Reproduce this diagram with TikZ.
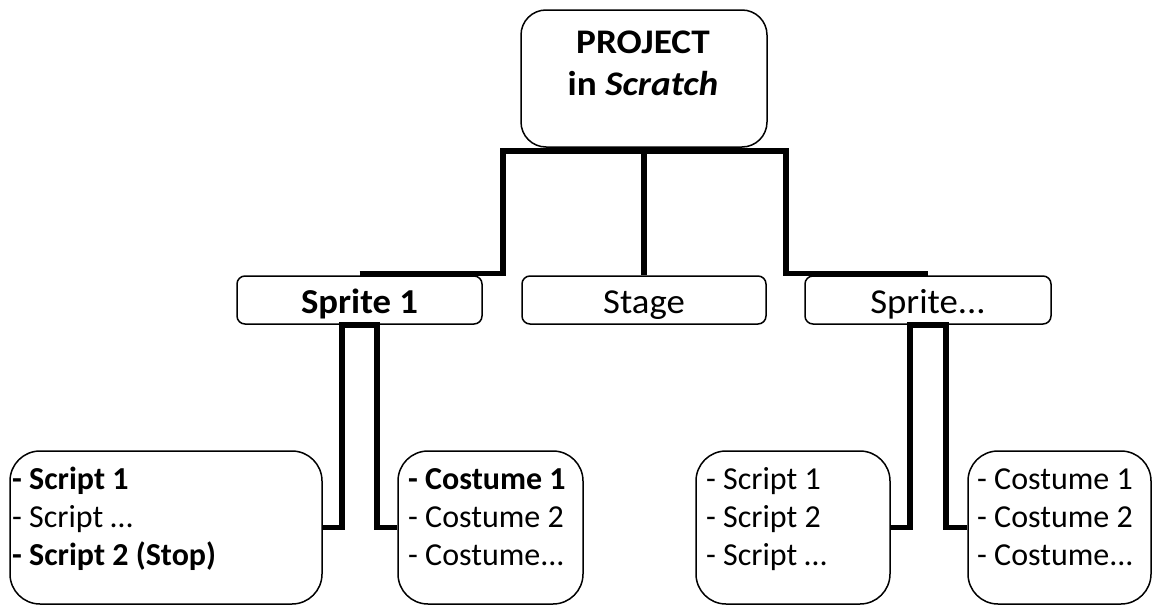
\documentclass[tikz,border=0pt]{standalone}
\usepackage{fontspec}
\setmainfont{Carlito}
\newfontfamily\widefont[FakeStretch=1.08]{Carlito}
\newfontfamily\midfont[FakeStretch=1.05]{Carlito}

\begin{document}
\begin{tikzpicture}
  [x=1pt,y=-1pt,
   top/.style={draw,line width=1.5pt,rounded corners=25pt,minimum width=246pt,minimum height=137pt},
   mid/.style={draw,line width=1.5pt,rounded corners=8pt,minimum height=48pt,inner sep=0pt,
               text height=30pt,text depth=4pt,font=\midfont\fontsize{35}{40}\selectfont},
   leaf/.style={draw,line width=1.5pt,rounded corners=30pt,minimum height=153pt},
   items/.style={anchor=north west,align=left,inner sep=0pt,font=\fontsize{32}{38}\selectfont},
   conn/.style={line width=5.5pt}]
  \useasboundingbox (0,0) rectangle (1154,605);

  \node[top] (proj) at (644,78.5) {};
  \node[align=center,inner sep=0pt,font=\widefont\fontsize{34.5}{42}\selectfont\bfseries] (projtxt) at (643,63) {PROJECT\\in \textit{Scratch}};

  \node[mid,minimum width=245pt] (spr1)  at (359.5,300) {\textbf{Sprite 1}};
  \node[mid,minimum width=244pt] (stage) at (644,300)   {Stage};
  \node[mid,minimum width=246pt] (sprn)  at (928,300)   {Sprite...};

  \node[leaf,minimum width=312pt] (scr1) at (166,527.5)   {};
  \node[leaf,minimum width=185pt] (cos1) at (490.5,527.5) {};
  \node[leaf,minimum width=194pt] (scrn) at (793,527.5)   {};
  \node[leaf,minimum width=183pt] (cosn) at (1059.5,527.5) {};

  \node[items] (scr1txt) at (12,462.4)  {\strut\textbf{- Script 1}\\- Script …\\\textbf{- Script 2 (Stop)}};
  \node[items] (cos1txt) at (408,462.4) {\strut\textbf{- Costume 1}\\- Costume 2\\- Costume...};
  \node[items] (scrntxt) at (706,462.4) {\strut- Script 1\\- Script 2\\- Script …};
  \node[items] (cosntxt) at (977,462.4) {\strut- Costume 1\\- Costume 2\\- Costume...};

  \coordinate (jl) at (503,151);
  \coordinate (jr) at (786,151);
  \draw[conn] ([yshift=2pt]spr1.north) -| (jl) -- (jr) |- ([yshift=2pt]sprn.north);
  \draw[conn] (stage.north) -- (stage.north |- jl);
  \draw[conn] (scr1.east) -| ([xshift=-17.5pt]spr1.south) -- ([xshift=17.5pt]spr1.south) |- (cos1.west);
  \draw[conn] (scrn.east) -| ([xshift=-18pt]sprn.south) -- ([xshift=18pt]sprn.south) |- (cosn.west);
\end{tikzpicture}
\end{document}
